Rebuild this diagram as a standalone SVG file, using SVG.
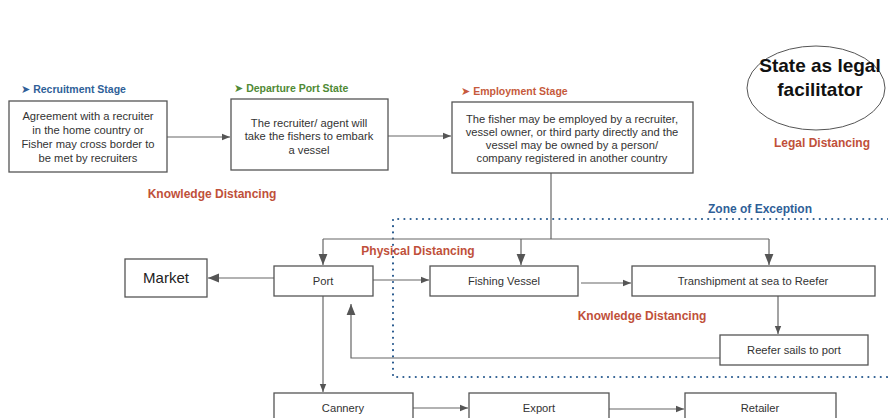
<svg xmlns="http://www.w3.org/2000/svg" width="888" height="418" viewBox="0 0 888 418">
<defs>
<style>
.box{fill:#fff;stroke:#555;stroke-width:1.3}
.t{font-family:"Liberation Sans",Arial,sans-serif;font-size:11.2px;fill:#333;text-anchor:middle}
.hd{font-family:"Liberation Sans",Arial,sans-serif;font-size:10.5px;font-weight:bold}
.gl{font-family:"DejaVu Sans",sans-serif;font-size:11px}
.lab{font-family:"Liberation Sans",Arial,sans-serif;font-size:12px;font-weight:bold;fill:#c0503a;text-anchor:middle}
.ln{fill:none;stroke:#666;stroke-width:1.2}
.zone{fill:none;stroke:#2a5b8f;stroke-width:2.2;stroke-dasharray:0 6.2;stroke-linecap:round}
</style>
<marker id="ah" viewBox="0 0 10 10" refX="10" refY="5" markerWidth="8" markerHeight="8" markerUnits="userSpaceOnUse" orient="auto">
<path d="M0,1 L10,5 L0,9 z" fill="#555"/>
</marker>
<marker id="ahb" viewBox="0 0 10 10" refX="10" refY="5" markerWidth="11" markerHeight="11" markerUnits="userSpaceOnUse" orient="auto">
<path d="M0,1 L10,5 L0,9 z" fill="#555"/>
</marker>
</defs>
<rect width="888" height="418" fill="#fff"/>

<g id="zone">
<path class="zone" d="M888,219 L393,219 L393,377 L888,377"/>
<text x="760" y="213" text-anchor="middle" style="font-family:'Liberation Sans',Arial,sans-serif;font-size:12px;font-weight:bold;fill:#2f5f98">Zone of Exception</text>
</g>

<g id="connectors">
<line class="ln" x1="167" y1="137" x2="230" y2="137" marker-end="url(#ah)"/>
<line class="ln" x1="388" y1="136" x2="451" y2="136" marker-end="url(#ah)"/>
<line class="ln" x1="551" y1="173" x2="551" y2="239"/>
<path class="ln" d="M323,239 L769,239"/>
<line class="ln" x1="323" y1="239" x2="323" y2="265" marker-end="url(#ahb)"/>
<line class="ln" x1="521" y1="239" x2="521" y2="265" marker-end="url(#ahb)"/>
<line class="ln" x1="769" y1="239" x2="769" y2="265" marker-end="url(#ahb)"/>
<line class="ln" x1="274" y1="278" x2="208" y2="278" marker-end="url(#ahb)"/>
<line class="ln" x1="373" y1="280" x2="429" y2="280" marker-end="url(#ah)"/>
<line class="ln" x1="581" y1="283" x2="631" y2="283" marker-end="url(#ah)"/>
<line class="ln" x1="778" y1="296" x2="778" y2="334" marker-end="url(#ah)"/>
<path class="ln" d="M720,358 L351,358 L351,304" marker-end="url(#ahb)"/>
<line class="ln" x1="323" y1="296" x2="323" y2="392" marker-end="url(#ah)"/>
<line class="ln" x1="413" y1="408" x2="468" y2="408" marker-end="url(#ah)"/>
<line class="ln" x1="609" y1="409" x2="684" y2="409" marker-end="url(#ah)"/>
</g>

<g id="recruitment">
<text x="21" y="93" class="hd" fill="#2f5f98"><tspan class="gl">➤</tspan> Recruitment Stage</text>
<rect class="box" x="9" y="101" width="158" height="71"/>
<text class="t" x="88" y="120">Agreement with a recruiter</text>
<text class="t" x="88" y="134">in the home country or</text>
<text class="t" x="88" y="148">Fisher may cross border to</text>
<text class="t" x="88" y="162">be met by recruiters</text>
</g>

<g id="departure">
<text x="234" y="92" class="hd" fill="#4f8a35"><tspan class="gl">➤</tspan> Departure Port State</text>
<rect class="box" x="231" y="99" width="157" height="71"/>
<text class="t" x="309" y="127">The recruiter/ agent will</text>
<text class="t" x="309" y="140">take the fishers to embark</text>
<text class="t" x="309" y="154">a vessel</text>
</g>

<g id="employment">
<text x="461" y="95" class="hd" fill="#c65a3c"><tspan class="gl">➤</tspan> Employment Stage</text>
<rect class="box" x="452" y="102" width="241" height="71"/>
<text class="t" x="572" y="123">The fisher may be employed by a recruiter,</text>
<text class="t" x="572" y="136">vessel owner, or third party directly and the</text>
<text class="t" x="572" y="149">vessel may be owned by a person/</text>
<text class="t" x="572" y="162">company registered in another country</text>
</g>

<g id="state">
<ellipse cx="816" cy="88" rx="69" ry="42" fill="#fff" stroke="#555" stroke-width="1"/>
<text x="820" y="72" text-anchor="middle" style="font-family:'Liberation Sans',Arial,sans-serif;font-size:19px;font-weight:bold;fill:#111">State as legal</text>
<text x="820" y="96" text-anchor="middle" style="font-family:'Liberation Sans',Arial,sans-serif;font-size:19px;font-weight:bold;fill:#111">facilitator</text>
</g>

<g id="labels">
<text class="lab" x="822" y="147">Legal Distancing</text>
<text class="lab" x="212" y="198">Knowledge Distancing</text>
<text class="lab" x="418" y="255">Physical Distancing</text>
<text class="lab" x="642" y="320">Knowledge Distancing</text>
</g>

<g id="market">
<rect class="box" x="125" y="259" width="82" height="38"/>
<text x="166" y="283" text-anchor="middle" style="font-family:'Liberation Sans',Arial,sans-serif;font-size:15px;fill:#222">Market</text>
</g>
<g id="port">
<rect class="box" x="274" y="266" width="99" height="30"/>
<text class="t" x="323" y="285">Port</text>
</g>
<g id="fishing-vessel">
<rect class="box" x="430" y="266" width="148" height="30"/>
<text class="t" x="504" y="285">Fishing Vessel</text>
</g>
<g id="transhipment">
<rect class="box" x="632" y="266" width="243" height="30"/>
<text class="t" x="753" y="285">Transhipment at sea to Reefer</text>
</g>
<g id="reefer">
<rect class="box" x="720" y="335" width="148" height="30"/>
<text class="t" x="794" y="354">Reefer sails to port</text>
</g>
<g id="cannery">
<rect class="box" x="274" y="393" width="139" height="40"/>
<text class="t" x="343" y="412">Cannery</text>
</g>
<g id="export">
<rect class="box" x="469" y="393" width="140" height="40"/>
<text class="t" x="539" y="412">Export</text>
</g>
<g id="retailer">
<rect class="box" x="685" y="393" width="151" height="40"/>
<text class="t" x="760" y="412">Retailer</text>
</g>
</svg>
